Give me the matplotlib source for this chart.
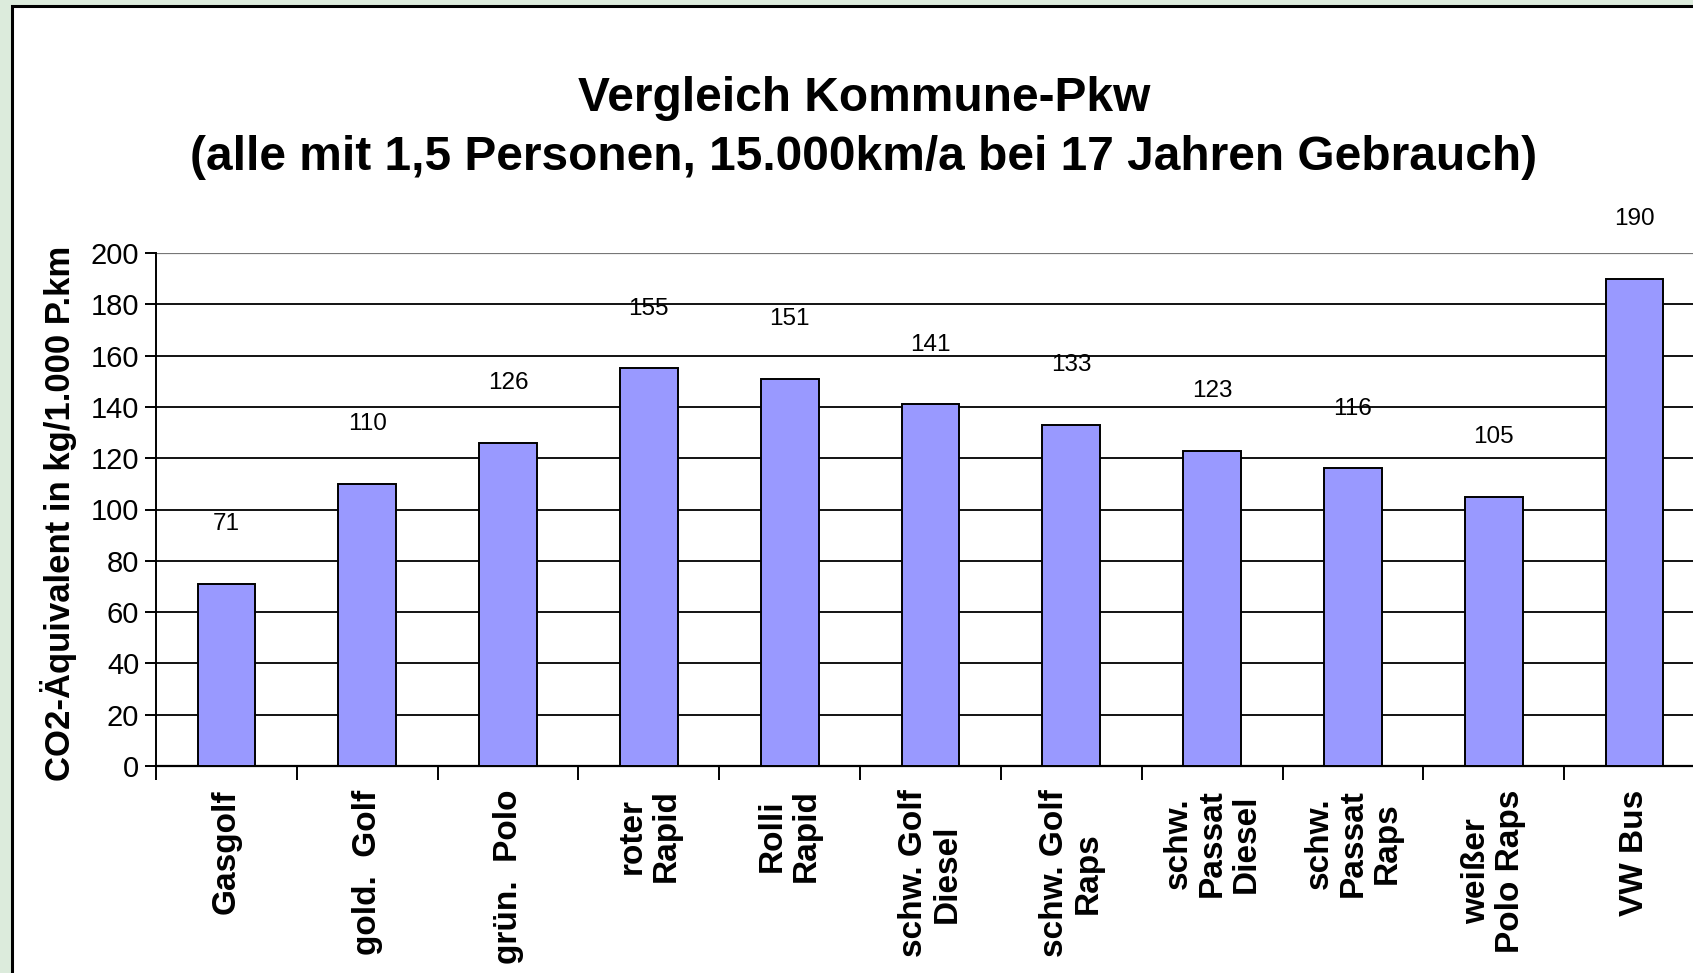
import matplotlib
matplotlib.use("Agg")
import matplotlib.pyplot as plt
from matplotlib.patches import Rectangle

categories = ["Gasgolf", "gold.  Golf", "grün.  Polo", "roter\nRapid", "Rolli\nRapid",
              "schw. Golf\nDiesel", "schw. Golf\nRaps", "schw.\nPassat\nDiesel",
              "schw.\nPassat\nRaps", "weißer\nPolo Raps", "VW Bus"]
values = [71, 110, 126, 155, 151, 141, 133, 123, 116, 105, 190]
yticks = [0, 20, 40, 60, 80, 100, 120, 140, 160, 180, 200]

title = "Vergleich Kommune-Pkw\n(alle mit 1,5 Personen, 15.000km/a bei 17 Jahren Gebrauch)"
ylabel = "CO2-Äquivalent in kg/1.000 P.km"

plt.rcParams['font.family'] = ['Liberation Sans', 'DejaVu Sans']

W, H = 1693, 973
fig = plt.figure(figsize=(W / 100, H / 100), dpi=100)
fig.patch.set_facecolor('#dcebdc')

# white chart area with black frame (extends beyond the visible area)
frame = Rectangle((12 / W, -0.1), 1.2, 1 - 6 / H + 0.1, transform=fig.transFigure,
                  facecolor='white', edgecolor='black', linewidth=2.2, zorder=-10)
fig.patches.append(frame)

left = 156 / W
right = 1705 / W
bottom = 1 - 766 / H
top = 1 - 253 / H
ax = fig.add_axes([left, bottom, right - left, top - bottom])
ax.set_zorder(5)
ax.set_facecolor('none')

x = [i + 0.5 for i in range(len(values))]
ax.bar(x, values, width=0.41, color='#9999ff', edgecolor='black', linewidth=1.4, zorder=3)

for xi, v in zip(x, values):
    ax.annotate(str(v), (xi, v), xytext=(0, 43), textcoords='offset points',
                ha='center', va='center', fontsize=17.5, zorder=4, annotation_clip=False)

ax.set_xlim(0, len(values))
ax.set_ylim(0, 200)
ax.set_yticks(yticks)
ax.set_yticklabels([str(t) for t in yticks], fontsize=21)
ax.yaxis.grid(True, color='black', linewidth=1.3, zorder=1)
ax.set_axisbelow(True)

ax.set_xticks(range(len(values) + 1))
ax.set_xticklabels([])
ax.set_xticks(x, minor=True)
ax.set_xticklabels(categories, minor=True, rotation=90, fontsize=24, fontweight='bold',
                   multialignment='center', linespacing=1.12)
ax.tick_params(axis='x', which='minor', length=0, pad=17)
ax.tick_params(axis='x', which='major', length=10, width=1.4, direction='out')
ax.tick_params(axis='y', length=8, width=1.4, direction='out', pad=4)

for s in ['top', 'right']:
    ax.spines[s].set_visible(False)
ax.spines['left'].set_linewidth(1.4)
ax.spines['bottom'].set_linewidth(1.6)
ax.axhline(200, color='#777777', linewidth=1.6, zorder=2)

fig.text(59 / W, 1 - 513 / H, ylabel, rotation=90, ha='center', va='center',
         fontsize=25, fontweight='bold')

fig.text(864 / W, 1 - 128 / H, title, ha='center', va='center', fontsize=34.5,
         fontweight='bold', linespacing=1.38)

fig.savefig('out.png', dpi=100, facecolor=fig.get_facecolor())
